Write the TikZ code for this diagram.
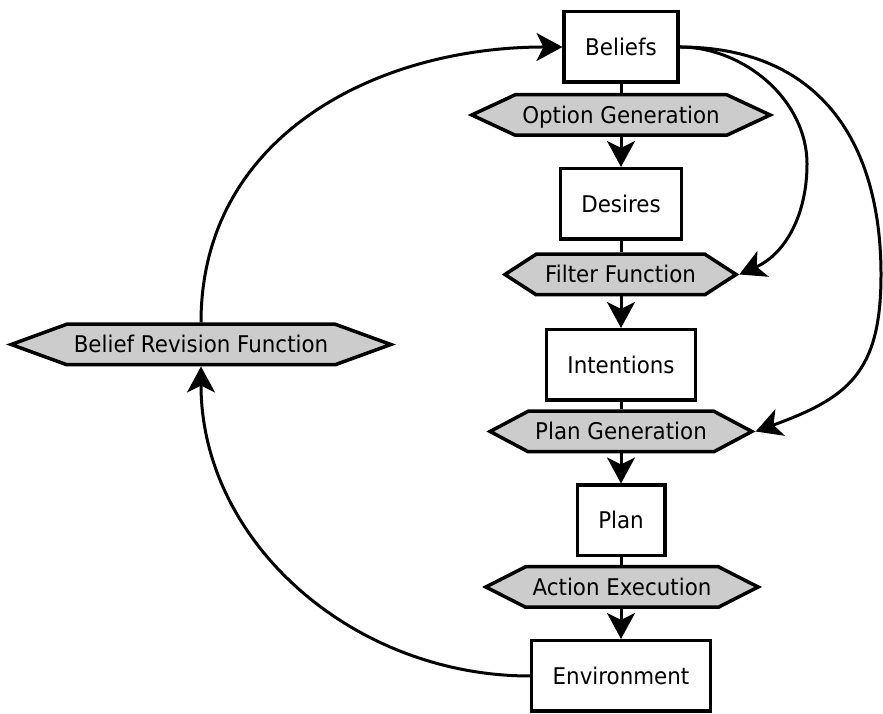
\documentclass[tikz,border=0pt]{standalone}
\usepackage{fontspec}
\setmainfont[FakeStretch=0.93]{DejaVu Sans}
\usetikzlibrary{arrows.meta,shapes.symbols}

\begin{document}
\begin{tikzpicture}[x=1pt,y=1pt,
  every node/.style={font=\fontsize{23pt}{27pt}\selectfont, text height=16.8pt, text depth=0pt},
  statebox/.style={draw, line width=3.5pt, fill=white, minimum height=70.5pt, inner xsep=21pt, inner ysep=0pt},
  process/.style={draw, line width=3.5pt, fill=black!20, shape=signal, signal to=east and west,
    signal pointer angle=#1, inner ysep=11.85pt, inner xsep=7pt},
  link/.style={line width=3pt},
  flow/.style={link, -{Stealth[length=26pt,width=28pt,inset=7pt]}}
]
\useasboundingbox (0,0) rectangle (883,714);

% main column
\node[statebox] (beliefs)    at (621,667)   {Beliefs};
\node[process=50] (optgen)   at (621,599)   {Option Generation};
\node[statebox] (desires)    at (621,510)   {Desires};
\node[process=66,inner xsep=9pt] (filter) at (620.5,439.5) {Filter Function};
\node[statebox] (intentions) at (621,349)   {Intentions};
\node[process=56] (plangen)  at (621,282.5) {Plan Generation};
\node[statebox] (plan)       at (621,193.5) {Plan};
\node[process=54] (action)   at (622,127)   {Action Execution};
\node[statebox] (env)        at (621,38)    {Environment};

% revision step on the left
\node[process=40] (brf) at (201,369.5) {Belief Revision Function};

% straight links down the column
\draw[link] (beliefs.south) -- (optgen.north);
\draw[flow] (optgen.south) -- (desires.north);
\draw[link] (desires.south) -- (filter.north -| desires.south);
\draw[flow] (filter.south -| intentions.north) -- (intentions.north);
\draw[link] (intentions.south) -- (plangen.north);
\draw[flow] (plangen.south) -- (plan.north);
\draw[link] (plan.south) -- (action.north -| plan.south);
\draw[flow] (action.south -| env.north) -- (env.north);

% feedback loop through belief revision
\draw[flow] (env.west) to[out=180,in=-90] (brf.south);
\draw[flow] (brf.north) to[out=90,in=180,looseness=1.05] (beliefs.west);

% beliefs feeding the filter and plan generation
\coordinate (innerbend) at (807,550);
\coordinate (outerbend) at (881,439);
\draw[flow] (beliefs.east) to[out=0,in=90,looseness=0.95] (innerbend)
  to[out=-90,in=24] (filter.east);
\draw[flow] (beliefs.east) to[out=0,in=90,looseness=1.15] (outerbend)
  to[out=-90,in=20,looseness=1.25] (plangen.east);
\end{tikzpicture}
\end{document}
